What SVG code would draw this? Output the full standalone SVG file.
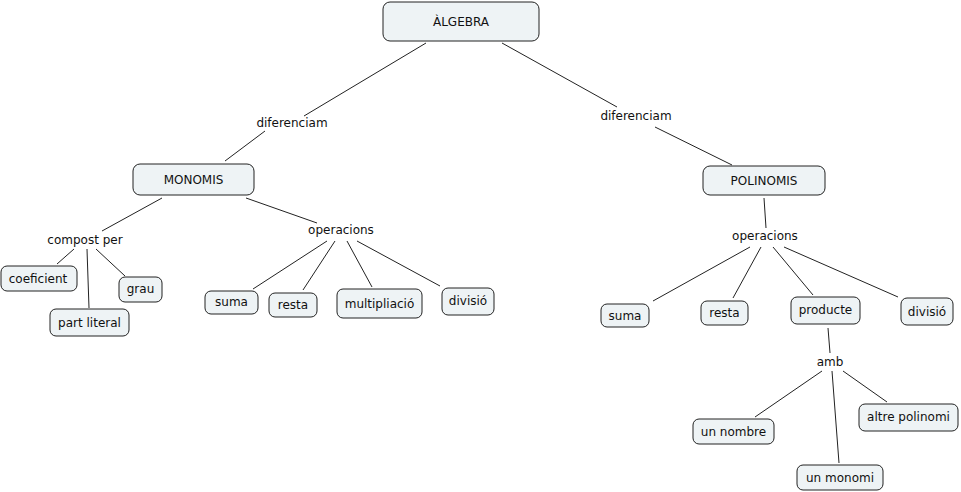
<svg xmlns="http://www.w3.org/2000/svg" width="961" height="492" viewBox="0 0 961 492">
<style>
.n rect{fill:#eef3f5;stroke:#222;stroke-width:1}
text{font-family:"DejaVu Sans",Verdana,sans-serif;font-size:12px;fill:#111;text-anchor:middle;dominant-baseline:central}
#connectors line{stroke:#222;stroke-width:1}
</style>
<rect width="961" height="492" fill="#fff"/>
<g id="connectors">
<line x1="426" y1="43" x2="304" y2="116"/>
<line x1="265" y1="131" x2="225" y2="161"/>
<line x1="502" y1="43" x2="617" y2="107"/>
<line x1="655" y1="127" x2="732" y2="165"/>
<line x1="162" y1="198" x2="102" y2="231"/>
<line x1="246" y1="198" x2="317" y2="223"/>
<line x1="57" y1="264" x2="74" y2="249"/>
<line x1="87" y1="249" x2="89" y2="308"/>
<line x1="96" y1="249" x2="125" y2="276"/>
<line x1="327" y1="241" x2="253" y2="289"/>
<line x1="335" y1="241" x2="303" y2="290"/>
<line x1="347" y1="241" x2="372" y2="287"/>
<line x1="357" y1="241" x2="440" y2="286"/>
<line x1="764" y1="198" x2="766" y2="228"/>
<line x1="750" y1="247" x2="653" y2="301"/>
<line x1="761" y1="247" x2="733" y2="298"/>
<line x1="773" y1="247" x2="813" y2="295"/>
<line x1="784" y1="247" x2="898" y2="297"/>
<line x1="828" y1="328" x2="830" y2="353"/>
<line x1="822" y1="371" x2="755" y2="417"/>
<line x1="832" y1="371" x2="839" y2="463"/>
<line x1="843" y1="371" x2="887" y2="402"/>
</g>
<g id="labels">
<text x="292" y="123">diferenciam</text>
<text x="636" y="116">diferenciam</text>
<text x="85" y="240">compost per</text>
<text x="341" y="230">operacions</text>
<text x="765" y="236">operacions</text>
<text x="830" y="362">amb</text>
</g>
<g id="algebra" class="n"><rect x="383" y="2" width="156" height="39" rx="7"/><text x="461" y="21.5">ÀLGEBRA</text></g>
<g id="monomis" class="n"><rect x="133" y="164" width="121" height="31" rx="7"/><text x="193.5" y="179.5">MONOMIS</text></g>
<g id="polinomis" class="n"><rect x="703" y="166" width="122" height="29" rx="7"/><text x="764" y="180.5">POLINOMIS</text></g>
<g id="coeficient" class="n"><rect x="1" y="266" width="76" height="25" rx="6"/><text x="38" y="278.5">coeficient</text></g>
<g id="grau" class="n"><rect x="119" y="277" width="43" height="25" rx="6"/><text x="140.5" y="289">grau</text></g>
<g id="part-literal" class="n"><rect x="50" y="309" width="79" height="27" rx="6"/><text x="89.5" y="322.5">part literal</text></g>
<g id="m-suma" class="n"><rect x="205" y="291" width="53" height="23" rx="6"/><text x="231.5" y="302">suma</text></g>
<g id="m-resta" class="n"><rect x="269" y="293" width="48" height="24" rx="6"/><text x="293" y="305">resta</text></g>
<g id="m-multiplicacio" class="n"><rect x="337" y="289" width="85" height="29" rx="6"/><text x="379.5" y="303.5">multipliació</text></g>
<g id="m-divisio" class="n"><rect x="442" y="288" width="52" height="27" rx="6"/><text x="468" y="301">divisió</text></g>
<g id="p-suma" class="n"><rect x="601" y="304" width="48" height="23" rx="6"/><text x="625" y="316">suma</text></g>
<g id="p-resta" class="n"><rect x="701" y="301" width="47" height="24" rx="6"/><text x="724.5" y="313">resta</text></g>
<g id="p-producte" class="n"><rect x="791" y="297" width="69" height="27" rx="6"/><text x="825.5" y="309.5">producte</text></g>
<g id="p-divisio" class="n"><rect x="901" y="298" width="52" height="27" rx="6"/><text x="927" y="311.5">divisió</text></g>
<g id="un-nombre" class="n"><rect x="693" y="419" width="81" height="25" rx="6"/><text x="733.5" y="431.5">un nombre</text></g>
<g id="altre-polinomi" class="n"><rect x="859" y="404" width="99" height="27" rx="6"/><text x="908.5" y="416.5">altre polinomi</text></g>
<g id="un-monomi" class="n"><rect x="797" y="465" width="86" height="25" rx="6"/><text x="840" y="478">un monomi</text></g>
</svg>
